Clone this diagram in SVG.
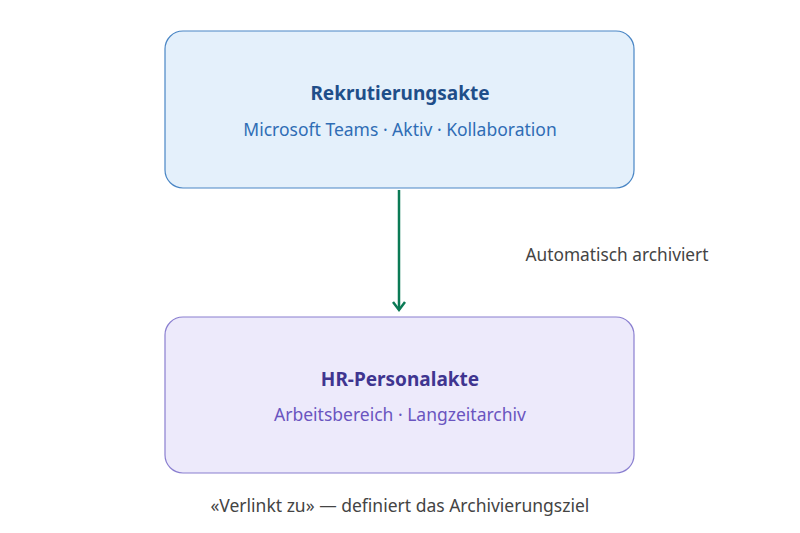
<svg xmlns="http://www.w3.org/2000/svg" width="800" height="533" viewBox="0 0 800 533">
<defs>
<style>
text{font-family:"Noto Sans","Open Sans",sans-serif;text-anchor:middle}
.t{font-size:19px;font-weight:bold}
.s{font-size:17.5px}
.l{font-size:17.3px;fill:#444}
</style>
<marker id="a" markerWidth="14" markerHeight="14" refX="9" refY="7" orient="auto" markerUnits="userSpaceOnUse">
<path d="M1,1 L9,7 L1,13" fill="none" stroke="#0b7a55" stroke-width="2.5"/>
</marker>
</defs>
<rect width="800" height="533" fill="#fff"/>
<g id="n1">
<rect x="165" y="31" width="469" height="157" rx="18" fill="#e4f0fb" stroke="#4a86c5" stroke-width="1.2"/>
<text class="t" x="400" y="100" fill="#1f4e89">Rekrutierungsakte</text>
<text class="s" x="400" y="136" fill="#2f6db5">Microsoft Teams · Aktiv · Kollaboration</text>
</g>
<g id="n2">
<rect x="165" y="317" width="469" height="156" rx="18" fill="#edeafb" stroke="#8a7fd0" stroke-width="1.2"/>
<text class="t" x="400" y="386" fill="#3f3590">HR-Personalakte</text>
<text class="s" x="400" y="421" fill="#6a55c0">Arbeitsbereich · Langzeitarchiv</text>
</g>
<g id="edges">
<line x1="399" y1="190" x2="399" y2="310" stroke="#0b7a55" stroke-width="2.5" marker-end="url(#a)"/>
<text class="l" x="617" y="261">Automatisch archiviert</text>
</g>
<text class="l" x="400" y="512" style="font-size:17.5px">«Verlinkt zu» — definiert das Archivierungsziel</text>
</svg>
